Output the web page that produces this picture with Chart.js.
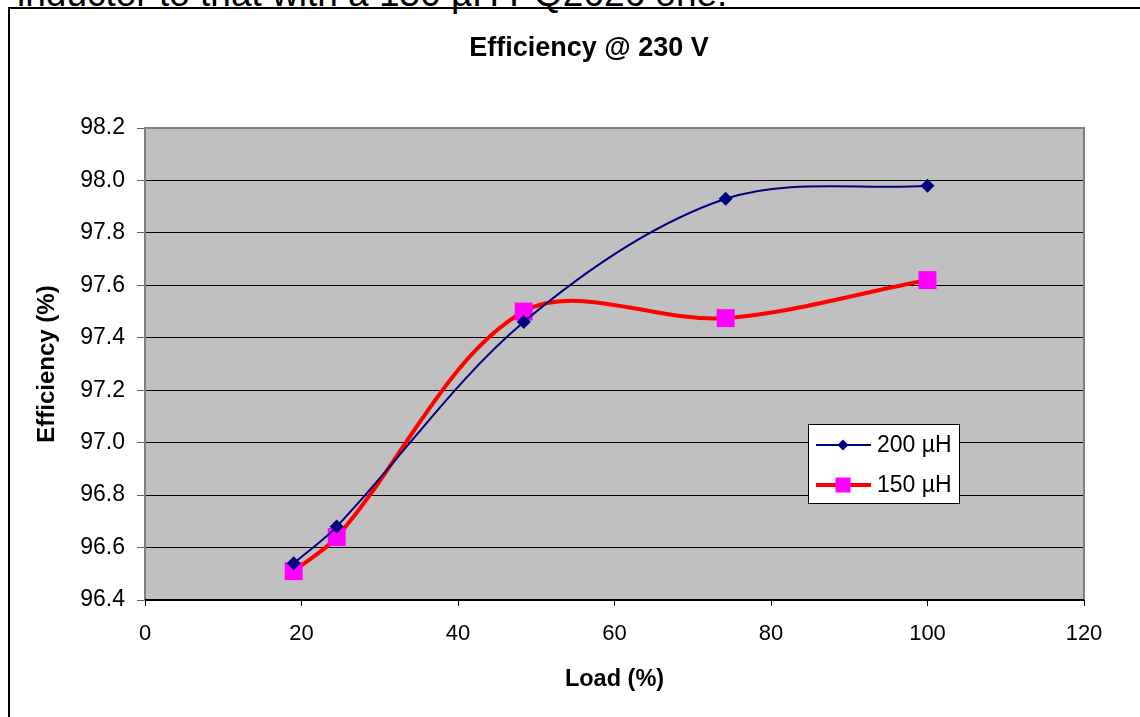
<!DOCTYPE html>
<html>
<head>
<meta charset="utf-8">
<script src="https://cdn.jsdelivr.net/npm/chart.js@4.4.1/dist/chart.umd.min.js"></script>
<style>
  html, body { margin: 0; padding: 0; background: #fff; width: 1140px; height: 717px; overflow: hidden; }
  #cut { position: absolute; left: 17px; top: -25px; font-family: "Liberation Sans", Arial, sans-serif; font-size: 37px; line-height: 37px; white-space: nowrap; color: #000; }
  #frame { position: absolute; left: 8px; top: 7px; width: 1200px; height: 800px; border-left: 2px solid #000; border-top: 2px solid #000; }
  #c { position: absolute; left: 0; top: 0; }
</style>
</head>
<body>
<div id="cut">inductor to that with a 150 µH PQ2626 one.</div>
<div id="frame"></div>
<canvas id="c" width="1140" height="717"></canvas>
<script>
// ---- data ----
const loadPct = [19, 24.5, 48.4, 74.2, 100];
const eff200uH = [96.54, 96.68, 97.46, 97.93, 97.98];
const eff150uH = [96.51, 96.64, 97.50, 97.475, 97.62];
const seriesNames = ['200 µH', '150 µH'];
const chartTitle = 'Efficiency @ 230 V';
const xTitle = 'Load (%)';
const yTitle = 'Efficiency (%)';
const yMin = 96.4, yMax = 98.2, yStep = 0.2;
const xMin = 0, xMax = 120, xStep = 20;

const FONT = '"Liberation Sans", Arial, sans-serif';

const plotBg = {
  id: 'plotBg',
  beforeDraw(chart) {
    const {ctx, chartArea: a} = chart;
    ctx.save();
    ctx.fillStyle = '#C0C0C0';
    ctx.fillRect(a.left, a.top, a.right - a.left, a.bottom - a.top);
    ctx.restore();
  },
  beforeDatasetsDraw(chart) {
    const {ctx, chartArea: a} = chart;
    ctx.save();
    ctx.strokeStyle = '#808080';
    ctx.lineWidth = 2;
    ctx.beginPath();
    ctx.moveTo(a.left, a.bottom);
    ctx.lineTo(a.left, a.top);
    ctx.lineTo(a.right, a.top);
    ctx.lineTo(a.right, a.bottom);
    ctx.stroke();
    ctx.strokeStyle = '#000';
    ctx.beginPath();
    ctx.moveTo(a.left, a.bottom);
    ctx.lineTo(a.right, a.bottom);
    ctx.stroke();
    ctx.restore();
  },
  afterDraw(chart) {
    const {ctx} = chart;
    ctx.save();
    ctx.fillStyle = '#000';
    ctx.font = 'bold 27px ' + FONT;
    ctx.textAlign = 'center';
    ctx.textBaseline = 'middle';
    ctx.fillText(chartTitle, 589, 49);
    ctx.restore();
  }
};

const boxLegend = {
  id: 'boxLegend',
  afterDraw(chart) {
    const {ctx} = chart;
    const x0 = 808, y0 = 424, w = 151, h = 79;
    ctx.save();
    ctx.fillStyle = '#fff';
    ctx.fillRect(x0, y0, w, h);
    ctx.strokeStyle = '#000';
    ctx.lineWidth = 1;
    ctx.strokeRect(x0 + 0.5, y0 + 0.5, w, h);
    const rows = [y0 + 21, y0 + 61];
    chart.data.datasets.forEach((ds, i) => {
      const y = rows[i];
      ctx.strokeStyle = ds.borderColor;
      ctx.lineWidth = ds.borderWidth;
      ctx.beginPath();
      ctx.moveTo(816, y);
      ctx.lineTo(871, y);
      ctx.stroke();
      ctx.fillStyle = ds.pointBackgroundColor;
      ctx.beginPath();
      if (ds.pointStyle === 'rectRot') {
        const r = 5.5;
        ctx.moveTo(843, y - r); ctx.lineTo(843 + r, y); ctx.lineTo(843, y + r); ctx.lineTo(843 - r, y);
        ctx.closePath();
      } else {
        ctx.rect(843 - 7.5, y - 7.5, 15, 15);
      }
      ctx.fill();
      ctx.fillStyle = '#000';
      ctx.font = '23px ' + FONT;
      ctx.textBaseline = 'middle';
      ctx.textAlign = 'left';
      ctx.fillText(ds.label, 877, y + 1);
    });
    ctx.restore();
  }
};

new Chart(document.getElementById('c'), {
  type: 'line',
  data: {
    datasets: [
      {
        label: seriesNames[0],
        data: loadPct.map((x, i) => ({x, y: eff200uH[i]})),
        borderColor: '#000080',
        borderWidth: 2,
        pointStyle: 'rectRot',
        pointRadius: 7,
        pointBackgroundColor: '#000080',
        pointBorderColor: '#000080',
        pointBorderWidth: 0,
        tension: 0.33
      },
      {
        label: seriesNames[1],
        data: loadPct.map((x, i) => ({x, y: eff150uH[i]})),
        borderColor: '#FF0000',
        borderWidth: 4,
        pointStyle: 'rect',
        pointRadius: 12.7,
        pointBackgroundColor: '#FF00FF',
        pointBorderColor: '#FF00FF',
        pointBorderWidth: 0,
        tension: 0.33
      }
    ]
  },
  options: {
    responsive: false,
    animation: false,
    layout: { padding: { left: 20, right: 56, top: 128, bottom: 0 } },
    plugins: {
      legend: { display: false },
      tooltip: { enabled: false },
      title: { display: false }
    },
    scales: {
      x: {
        type: 'linear',
        min: xMin, max: xMax,
        ticks: { stepSize: xStep, color: '#000', font: { family: FONT, size: 22 }, padding: 15, maxRotation: 0 },
        grid: { drawOnChartArea: false, drawTicks: true, tickLength: 6, color: '#000' },
        border: { display: true, color: '#000', width: 1 },
        title: { display: true, text: xTitle, color: '#000', font: { family: FONT, size: 23.5, weight: 'bold', lineHeight: 1.2 }, padding: { top: 0, bottom: 23.5 } },
        afterFit(scale) { scale.height = 117; }
      },
      y: {
        type: 'linear',
        min: yMin, max: yMax,
        ticks: { stepSize: yStep, color: '#000', font: { family: FONT, size: 23 }, padding: 12,
                 callback: v => v.toFixed(1) },
        grid: { drawOnChartArea: true, drawTicks: true, tickLength: 8, color: '#000', tickColor: '#606060', lineWidth: 1 },
        border: { display: true, color: '#808080', width: 2 },
        title: { display: true, text: yTitle, color: '#000', font: { family: FONT, size: 24, weight: 'bold', lineHeight: 1.2 }, padding: { top: 13, bottom: 0 } },
        afterFit(scale) { scale.width = 125; }
      }
    }
  },
  plugins: [plotBg, boxLegend]
});
</script>
</body>
</html>
